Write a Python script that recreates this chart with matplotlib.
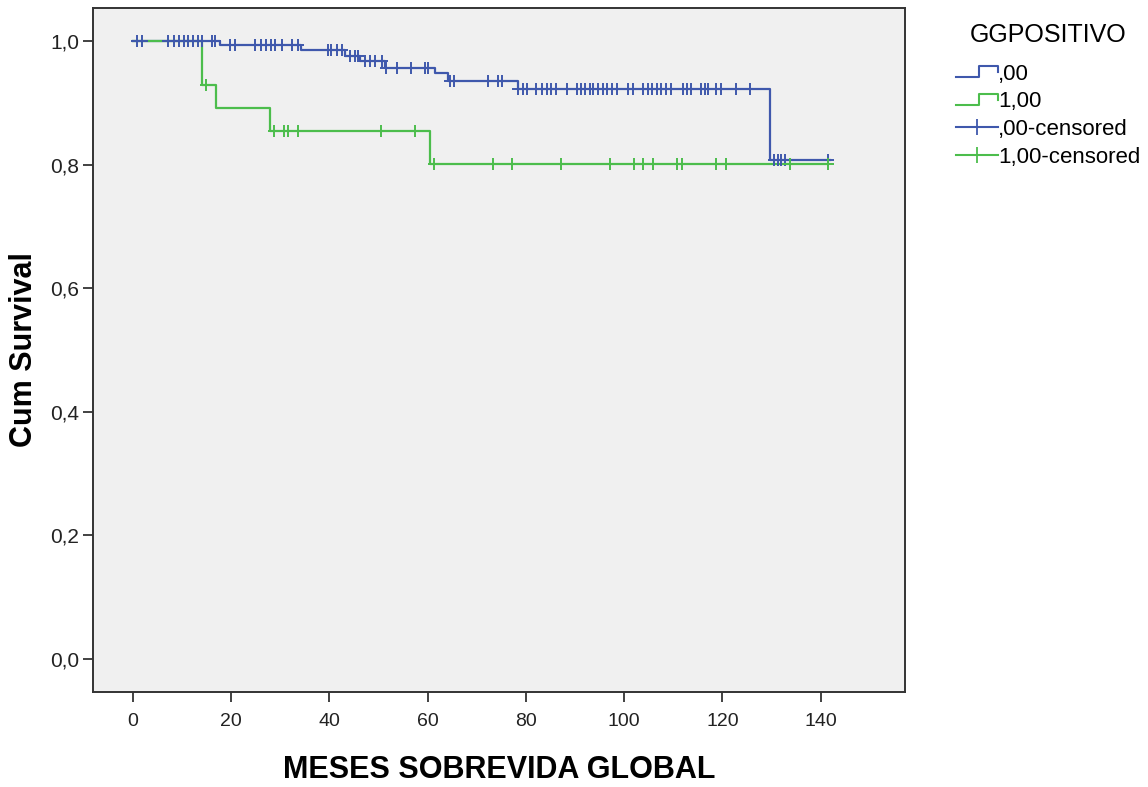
import numpy as np
import matplotlib
matplotlib.use("Agg")
import matplotlib.pyplot as plt
from matplotlib.lines import Line2D
from matplotlib.legend_handler import HandlerBase

# Courbe ,00 (bleue) : instants des décès et survie après chaque pas
blue_t = [0, 17.7, 34.3, 43.1, 46.2, 51.3, 61.5, 64.2, 78.3, 129.6]
blue_s = [1.0, 0.993, 0.985, 0.976, 0.968, 0.956, 0.948, 0.935, 0.923, 0.807]
blue_end = 142.0
blue_cens = [0.8, 1.8, 7.2, 8.3, 9.4, 10.4, 11.3, 12.2, 13.2, 14.0, 16.0, 16.7,
             19.7, 20.8, 24.8, 26.0, 27.0, 28.0, 29.0, 30.3, 32.3, 33.6,
             39.7, 40.4, 41.5, 42.5, 44.2, 45.2, 45.9, 47.2, 48.2, 49.2, 50.6,
             51.5, 53.7, 56.7, 59.4, 60.1, 64.5, 65.3, 72.3, 74.3, 75.2,
             78.4, 79.4, 80.2, 82.1, 83.2, 84.2, 85.2, 86.1, 88.3, 90.3, 91.3,
             92.0, 93.0, 93.7, 94.6, 95.6, 96.6, 97.6, 98.6, 100.8, 101.8,
             103.8, 104.9, 105.6, 106.6, 107.6, 108.6, 109.6, 112.0, 112.8,
             113.7, 115.7, 116.4, 117.1, 118.8, 119.8, 122.7, 125.6,
             130.6, 131.3, 132.0, 132.7, 141.5]

# Courbe 1,00 (verte)
green_t = [0, 14.0, 16.9, 27.8, 60.4]
green_s = [1.0, 0.929, 0.892, 0.855, 0.801]
green_end = 141.6
green_cens = [14.8, 28.8, 30.8, 31.6, 33.6, 50.5, 57.4, 61.3, 73.3, 77.2,
              87.2, 97.1, 102.0, 103.8, 105.9, 110.8, 111.7, 118.8, 120.7,
              133.7, 141.5]

x_ticks = [0, 20, 40, 60, 80, 100, 120, 140]
y_ticks = [0.0, 0.2, 0.4, 0.6, 0.8, 1.0]
y_tick_labels = ["0,0", "0,2", "0,4", "0,6", "0,8", "1,0"]
legend_labels = [",00", "1,00", ",00-censored", "1,00-censored"]

BLUE = "#3f58ac"
GREEN = "#4cbd4c"
FONT = "Liberation Sans"


def surv_at(times, steps, values):
    idx = np.searchsorted(steps, times, side="right") - 1
    return np.asarray(values)[idx]


class StepHandler(HandlerBase):
    """Petit symbole en escalier pour la légende."""
    def create_artists(self, legend, orig_handle, xdescent, ydescent,
                       width, height, fontsize, trans):
        x0, x1 = -xdescent, -xdescent + width
        xm = x0 + width * 0.55
        ylo = -ydescent + height * 0.15
        yhi = -ydescent + height * 0.85
        line = Line2D([x0, xm, xm, x1, x1], [ylo, ylo, yhi, yhi, yhi - height * 0.35],
                      color=orig_handle.get_color(), lw=1.5, transform=trans)
        return [line]


fig = plt.figure(figsize=(11.48, 7.87), dpi=100)
ax = fig.add_axes([0.081, 0.1207, 0.707, 0.8691])
ax.set_facecolor("#f0f0f0")

ax.step(blue_t + [blue_end], blue_s + [blue_s[-1]], where="post", color=BLUE, lw=1.6)
ax.step(green_t + [green_end], green_s + [green_s[-1]], where="post", color=GREEN, lw=1.6)
ax.plot(blue_cens, surv_at(blue_cens, blue_t, blue_s), ls="none", marker="+",
        ms=9, mew=1.4, color=BLUE)
ax.plot(green_cens, surv_at(green_cens, green_t, green_s), ls="none", marker="+",
        ms=9, mew=1.4, color=GREEN)

ax.set_xlim(-8.14, 157.1)
ax.set_ylim(-0.0534, 1.0534)
ax.set_xticks(x_ticks)
ax.set_xticklabels([str(v) for v in x_ticks], family=FONT, fontsize=14, color="#222222")
ax.set_yticks(y_ticks)
ax.set_yticklabels(y_tick_labels, family=FONT, fontsize=15, color="#222222")
ax.tick_params(axis="both", direction="out", length=7, width=1.3, color="#333333")
ax.tick_params(axis="x", pad=8)
ax.tick_params(axis="y", pad=3)
for sp in ax.spines.values():
    sp.set_color("#333333")
    sp.set_linewidth(1.4)

ax.set_xlabel("MESES SOBREVIDA GLOBAL", family=FONT, fontweight="bold",
              fontsize=22, labelpad=18)
ax.set_ylabel("Cum Survival", family=FONT, fontweight="bold", fontsize=22,
              labelpad=8)

handles = [Line2D([], [], color=BLUE), Line2D([], [], color=GREEN),
           Line2D([], [], color=BLUE, marker="+", ms=12, mew=1.3, lw=1.5),
           Line2D([], [], color=GREEN, marker="+", ms=12, mew=1.3, lw=1.5)]
leg = fig.legend(handles, legend_labels, title="GGPOSITIVO", loc="upper left",
                 bbox_to_anchor=(0.825, 0.982), frameon=False,
                 prop={"family": FONT, "size": 16},
                 title_fontproperties={"family": FONT, "size": 18},
                 handler_map={handles[0]: StepHandler(), handles[1]: StepHandler()},
                 handlelength=1.9, handletextpad=0.0, labelspacing=0.3,
                 borderaxespad=0)
leg._legend_box.sep = 12

fig.savefig("out.png", dpi=100)
